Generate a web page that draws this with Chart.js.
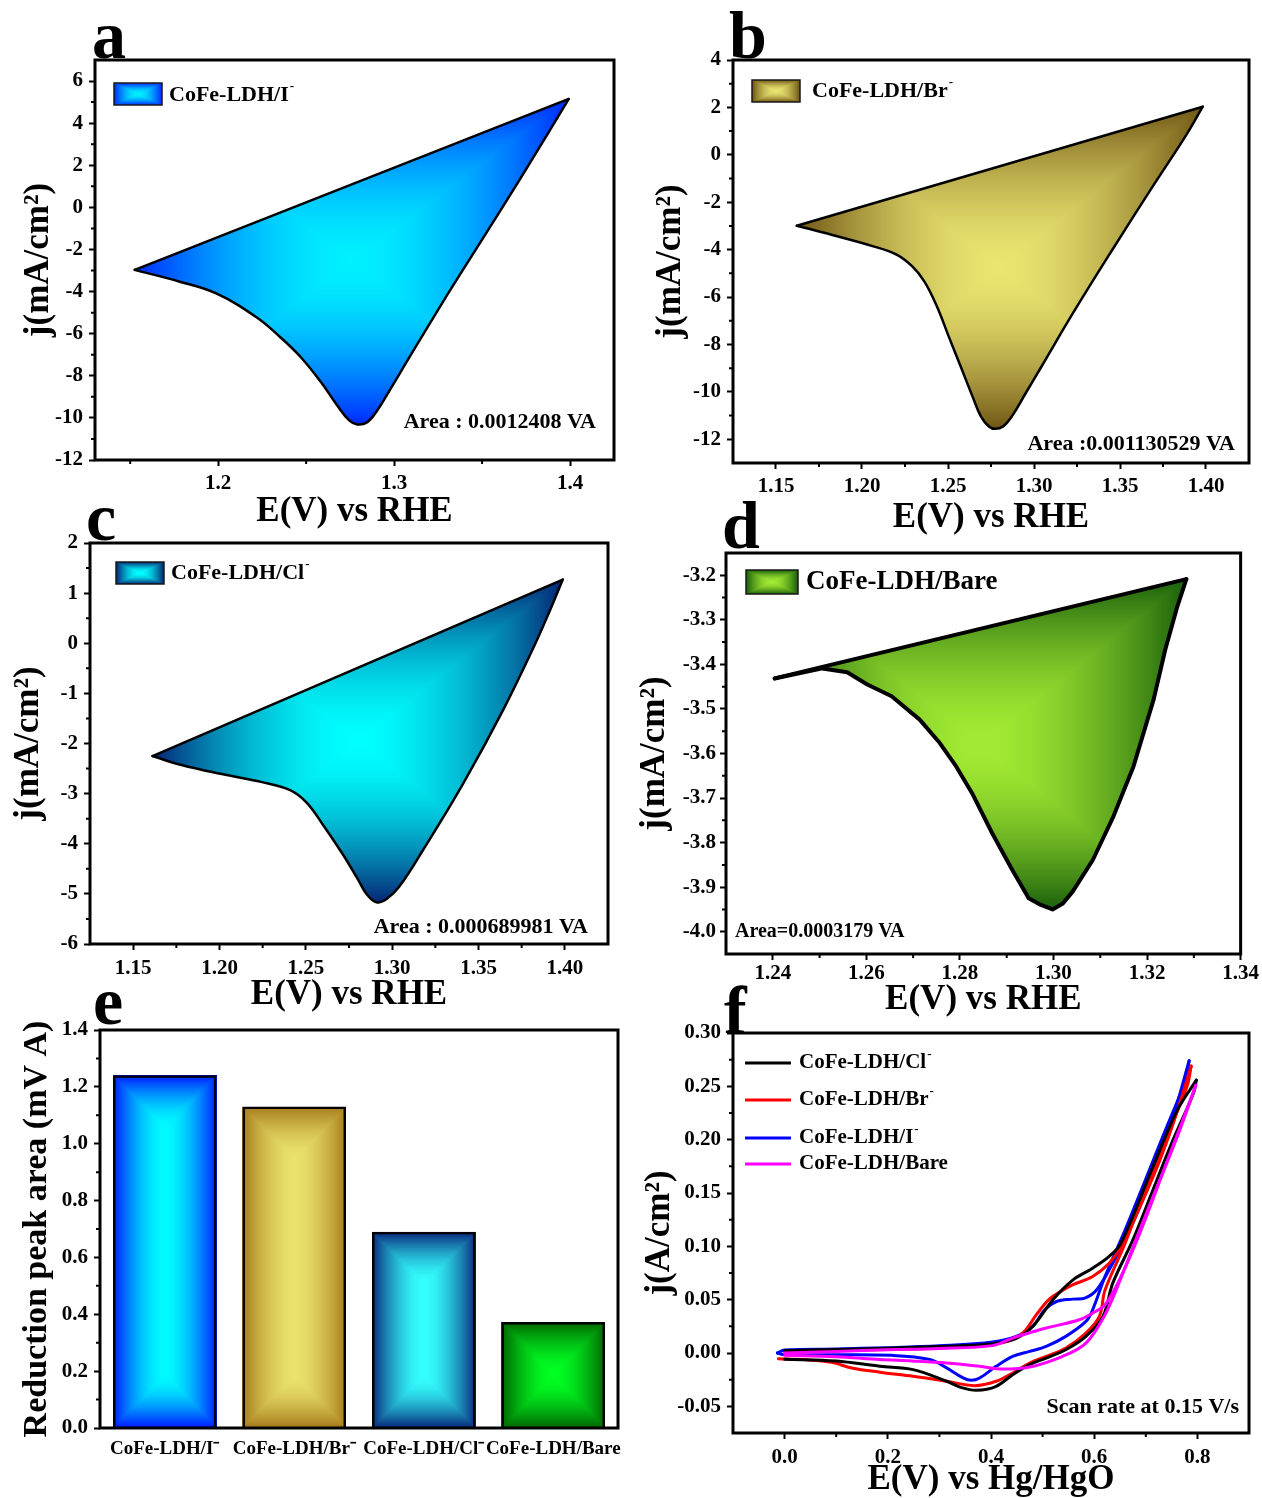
<!DOCTYPE html>
<html>
<head>
<meta charset="utf-8">
<title>CoFe-LDH reduction peaks</title>
<script src="https://cdn.jsdelivr.net/npm/chart.js@4.4.1/dist/chart.umd.min.js"></script>
<style>
  html, body { margin: 0; background: #fff; overflow: hidden; }
  #fig { position: relative; width: 1262px; height: 1498px; }
  #fig canvas { position: absolute; }
</style>
</head>
<body>
<div id="fig">
  <canvas id="panelA" width="630" height="545" style="left:0;top:0"></canvas>
  <canvas id="panelB" width="632" height="545" style="left:630px;top:0"></canvas>
  <canvas id="panelC" width="630" height="530" style="left:0;top:495px"></canvas>
  <canvas id="panelD" width="632" height="530" style="left:630px;top:495px"></canvas>
  <canvas id="panelE" width="630" height="513" style="left:0;top:985px"></canvas>
  <canvas id="panelF" width="632" height="513" style="left:630px;top:985px"></canvas>
</div>
<script>
// ---------- (a) CoFe-LDH/I-  j (mA/cm2) vs E (V vs RHE) ----------
var aFwdE = [1.1526, 1.3993];
var aFwdJ = [-2.97, 5.15];
var aRevE = [1.3993, 1.3730, 1.3501, 1.3271, 1.3042, 1.2974, 1.2905, 1.2848, 1.2790, 1.2745, 1.2676, 1.2584, 1.2470, 1.2355, 1.2218, 1.1989, 1.1782, 1.1526];
var aRevJ = [5.15, 1.53, -1.52, -4.58, -7.75, -8.70, -9.64, -10.20, -10.31, -10.12, -9.40, -8.30, -7.12, -6.18, -5.22, -4.09, -3.53, -2.97];
var aTicksE = [1.2, 1.3, 1.4], aMinorE = [1.15, 1.25, 1.35];
var aTicksJ = [-12, -10, -8, -6, -4, -2, 0, 2, 4, 6];
var aMinorJ = [-11, -9, -7, -5, -3, -1, 1, 3, 5];

// ---------- (b) CoFe-LDH/Br- ----------
var bFwdE = [1.1621, 1.3981];
var bFwdJ = [-2.99, 2.03];
var bRevE = [1.3981, 1.3883, 1.3696, 1.3462, 1.3229, 1.3042, 1.2948, 1.2878, 1.2820, 1.2773, 1.2738, 1.2691, 1.2645, 1.2575, 1.2504, 1.2434, 1.2364, 1.2294, 1.2201, 1.2061, 1.1827, 1.1621];
var bRevJ = [2.03, 0.81, -1.27, -3.93, -6.65, -8.95, -10.10, -10.96, -11.46, -11.56, -11.46, -11.03, -10.24, -8.95, -7.66, -6.37, -5.36, -4.72, -4.21, -3.85, -3.38, -2.99];
var bTicksE = [1.15, 1.20, 1.25, 1.30, 1.35, 1.40], bMinorE = [1.175, 1.225, 1.275, 1.325, 1.375];
var bTicksJ = [-12, -10, -8, -6, -4, -2, 0, 2, 4];
var bMinorJ = [-11, -9, -7, -5, -3, -1, 1, 3];

// ---------- (c) CoFe-LDH/Cl- ----------
var cFwdE = [1.1612, 1.3988];
var cFwdJ = [-2.25, 1.27];
var cRevE = [1.3988, 1.3923, 1.3830, 1.3643, 1.3411, 1.3178, 1.3038, 1.2968, 1.2910, 1.2851, 1.2805, 1.2712, 1.2595, 1.2502, 1.2409, 1.2246, 1.2013, 1.1780, 1.1612];
var cRevJ = [1.27, 0.73, 0.0, -1.33, -2.80, -4.13, -4.87, -5.10, -5.17, -5.00, -4.73, -4.20, -3.60, -3.17, -2.93, -2.77, -2.61, -2.43, -2.25];
var cTicksE = [1.15, 1.20, 1.25, 1.30, 1.35, 1.40], cMinorE = [1.175, 1.225, 1.275, 1.325, 1.375];
var cTicksJ = [-6, -5, -4, -3, -2, -1, 0, 1, 2];
var cMinorJ = [-5.5, -4.5, -3.5, -2.5, -1.5, -0.5, 0.5, 1.5];

// ---------- (d) CoFe-LDH/Bare ----------
var dFwdE = [1.2404, 1.3284];
var dFwdJ = [-3.4315, -3.2086];
var dRevE = [1.3284, 1.3265, 1.3239, 1.3214, 1.3171, 1.3128, 1.3084, 1.3041, 1.3020, 1.2998, 1.2973, 1.2947, 1.2912, 1.2869, 1.2826, 1.2792, 1.2757, 1.2714, 1.2654, 1.2602, 1.2559, 1.2506, 1.2404];
var dRevJ = [-3.2086, -3.269, -3.3665, -3.479, -3.629, -3.7415, -3.839, -3.910, -3.9365, -3.950, -3.940, -3.925, -3.8615, -3.779, -3.689, -3.629, -3.5765, -3.524, -3.4715, -3.445, -3.4175, -3.409, -3.4315];
var dTicksE = [1.24, 1.26, 1.28, 1.30, 1.32, 1.34], dMinorE = [1.25, 1.27, 1.29, 1.31, 1.33];
var dTicksJ = [-4.0, -3.9, -3.8, -3.7, -3.6, -3.5, -3.4, -3.3, -3.2];
var dMinorJ = [-3.95, -3.85, -3.75, -3.65, -3.55, -3.45, -3.35, -3.25];

// ---------- (e) reduction peak areas ----------
var eLabels = ['CoFe-LDH/I\u207B', 'CoFe-LDH/Br\u207B', 'CoFe-LDH/Cl\u207B', 'CoFe-LDH/Bare'];
var eArea = [1.2408, 1.1305, 0.6900, 0.373];
var eTicks = [0, 0.2, 0.4, 0.6, 0.8, 1.0, 1.2, 1.4];
var eMinor = [0.1, 0.3, 0.5, 0.7, 0.9, 1.1, 1.3];

// ---------- (f) CV at 0.15 V/s, j (A/cm2) vs E (V vs Hg/HgO) ----------
var clFwdE = [0.0, 0.10, 0.20, 0.30, 0.40, 0.45, 0.481, 0.52, 0.559, 0.597, 0.629, 0.652, 0.714, 0.761, 0.798];
var clFwdJ = [0.0022, 0.0033, 0.0045, 0.0062, 0.0085, 0.014, 0.025, 0.05, 0.0686, 0.0795, 0.0905, 0.103, 0.1747, 0.2277, 0.2558];
var clRevE = [0.798, 0.792, 0.753, 0.714, 0.675, 0.636, 0.617, 0.584, 0.545, 0.507, 0.475, 0.442, 0.41, 0.372, 0.34, 0.314, 0.249, 0.185, 0.10, 0.0];
var clRevJ = [0.2558, 0.243, 0.200, 0.153, 0.106, 0.0655, 0.0343, 0.0156, 0.0031, -0.0047, -0.0109, -0.0203, -0.0312, -0.035, -0.032, -0.0265, -0.0156, -0.0125, -0.0075, -0.0058];

var brFwdE = [0.0, 0.10, 0.20, 0.30, 0.40, 0.442, 0.465, 0.488, 0.512, 0.535, 0.559, 0.597, 0.629, 0.652, 0.714, 0.753, 0.788];
var brFwdJ = [0.0012, 0.0022, 0.0033, 0.0048, 0.0078, 0.0125, 0.0203, 0.0359, 0.050, 0.0577, 0.064, 0.0717, 0.0842, 0.0998, 0.165, 0.215, 0.269];
var brRevE = [0.788, 0.78, 0.738, 0.699, 0.66, 0.621, 0.61, 0.584, 0.545, 0.507, 0.475, 0.442, 0.41, 0.368, 0.314, 0.249, 0.185, 0.13, 0.091, 0.037, -0.012];
var brRevJ = [0.269, 0.25, 0.2, 0.153, 0.103, 0.059, 0.0343, 0.0187, 0.0047, -0.0031, -0.0094, -0.0187, -0.0265, -0.0306, -0.0265, -0.0218, -0.018, -0.014, -0.0087, -0.0062, -0.0053];

var iFwdE = [-0.014, 0.0, 0.10, 0.20, 0.30, 0.403, 0.449, 0.481, 0.504, 0.527, 0.559, 0.582, 0.605, 0.636, 0.675, 0.714, 0.753, 0.784];
var iFwdJ = [0.0, 0.0028, 0.0038, 0.0050, 0.0068, 0.0103, 0.0156, 0.025, 0.0405, 0.0483, 0.0505, 0.0515, 0.0593, 0.0842, 0.1217, 0.168, 0.2215, 0.274];
var iRevE = [0.784, 0.777, 0.738, 0.699, 0.66, 0.621, 0.597, 0.584, 0.545, 0.507, 0.475, 0.442, 0.41, 0.378, 0.362, 0.346, 0.314, 0.281, 0.208, 0.091, 0.0, -0.014];
var iRevJ = [0.274, 0.256, 0.209, 0.162, 0.1154, 0.0717, 0.0405, 0.0296, 0.0156, 0.0062, 0.0015, -0.0031, -0.0125, -0.0234, -0.0256, -0.0234, -0.014, -0.006, -0.0022, -0.0016, -0.0016, 0.0];

var bareFwdE = [0.0, 0.10, 0.20, 0.30, 0.403, 0.442, 0.462, 0.507, 0.571, 0.597, 0.621, 0.652, 0.691, 0.73, 0.769, 0.797];
var bareFwdJ = [0.0, 0.0015, 0.003, 0.0042, 0.0069, 0.014, 0.0171, 0.0234, 0.0312, 0.0374, 0.0452, 0.0717, 0.1154, 0.165, 0.215, 0.251];
var bareRevE = [0.797, 0.761, 0.722, 0.683, 0.65, 0.62, 0.584, 0.539, 0.475, 0.417, 0.378, 0.314, 0.247, 0.185, 0.10, 0.0];
var bareRevJ = [0.251, 0.2027, 0.156, 0.109, 0.068, 0.035, 0.0093, -0.0031, -0.0131, -0.015, -0.0125, -0.0094, -0.0075, -0.0062, -0.0035, -0.0022];

var fTicksE = [0, 0.2, 0.4, 0.6, 0.8], fMinorE = [0.1, 0.3, 0.5, 0.7];
var fTicksJ = [-0.05, 0, 0.05, 0.10, 0.15, 0.20, 0.25, 0.30];
var fMinorJ = [-0.025, 0.025, 0.075, 0.125, 0.175, 0.225, 0.275];

// ---------- helpers ----------
var serif = '"Liberation Serif", "Times New Roman", serif';
Chart.defaults.font.family = serif;

function pts(E, J) {
  return E.map(function (e, i) { return { x: e, y: J[i] }; });
}
function font(size) {
  return { family: serif, size: size, weight: 'bold', lineHeight: 1 };
}
function fix(n) {
  return function (v) { return Number(v).toFixed(n); };
}

// Origin-style box gradient: bright centre fading to dark edges
function boxImage(w, h, inner, outer, even) {
  w = Math.max(1, Math.round(w)); h = Math.max(1, Math.round(h));
  var c = document.createElement('canvas');
  c.width = w; c.height = h;
  var g = c.getContext('2d'), img = g.createImageData(w, h), d = img.data;
  var hx = even ? Math.min(w, h) / 2 : w / 2;
  var hy = even ? Math.min(w, h) / 2 : h / 2;
  for (var y = 0; y < h; y++) {
    var ty = Math.min(y + 0.5, h - y - 0.5) / hy;
    for (var x = 0; x < w; x++) {
      var t = Math.min(1, ty, Math.min(x + 0.5, w - x - 0.5) / hx);
      t = 1 - Math.pow(1 - t, 1.7);
      var k = (y * w + x) * 4;
      d[k] = outer[0] + (inner[0] - outer[0]) * t;
      d[k + 1] = outer[1] + (inner[1] - outer[1]) * t;
      d[k + 2] = outer[2] + (inner[2] - outer[2]) * t;
      d[k + 3] = 255;
    }
  }
  g.putImageData(img, 0, 0);
  return c;
}

function supText(ctx, text, sup, x, y, size) {
  ctx.font = 'bold ' + size + 'px ' + serif;
  ctx.textAlign = 'left';
  ctx.textBaseline = 'middle';
  ctx.fillText(text, x, y);
  if (sup) {
    var w = ctx.measureText(text).width;
    ctx.font = 'bold ' + Math.round(size * 0.6) + 'px ' + serif;
    ctx.fillText(sup, x + w + 1, y - size * 0.38);
  }
}

// fills the closed CV loop (or each bar) with the box gradient, under the lines
var boxFill = {
  id: 'boxFill',
  beforeDatasetsDraw: function (chart, args, o) {
    var ctx = chart.ctx;
    if (o.bars) {
      chart.getDatasetMeta(0).data.forEach(function (bar, i) {
        var p = bar.getProps(['x', 'y', 'base', 'width'], true);
        var top = Math.min(p.y, p.base), h = Math.abs(p.base - p.y);
        ctx.drawImage(boxImage(p.width, h, o.bars[i][0], o.bars[i][1], true), p.x - p.width / 2, top);
      });
      return;
    }
    if (!o.inner) return;
    var fwd = chart.getDatasetMeta(0), rev = chart.getDatasetMeta(1);
    var xs = [], ys = [];
    fwd.data.concat(rev.data).forEach(function (pt) { xs.push(pt.x); ys.push(pt.y); });
    var x0 = Math.min.apply(null, xs) - 3, x1 = Math.max.apply(null, xs) + 3;
    var y0 = Math.min.apply(null, ys) - 3, y1 = Math.max.apply(null, ys) + 3;
    rev.dataset.updateControlPoints(chart.chartArea, 'x');
    ctx.save();
    ctx.beginPath();
    rev.dataset.path(ctx);
    ctx.closePath();
    ctx.clip();
    ctx.drawImage(boxImage(x1 - x0, y1 - y0, o.inner, o.outer, false), x0, y0);
    ctx.restore();
  }
};

// frame, minor ticks, panel letter, legend and notes
var decor = {
  id: 'decor',
  afterDraw: function (chart, args, o) {
    var ctx = chart.ctx, a = chart.chartArea, ox = o.origin[0], oy = o.origin[1];
    var sx = chart.scales.x, sy = chart.scales.y;
    ctx.save();
    ctx.strokeStyle = '#000';
    ctx.fillStyle = '#000';
    ctx.lineWidth = 3;
    ctx.strokeRect(a.left, a.top, a.right - a.left, a.bottom - a.top);
    ctx.lineWidth = 2;
    ctx.beginPath();
    (o.minorX || []).forEach(function (v) {
      var x = sx.getPixelForValue(v);
      ctx.moveTo(x, a.bottom); ctx.lineTo(x, a.bottom + 4);
    });
    (o.minorY || []).forEach(function (v) {
      var y = sy.getPixelForValue(v);
      ctx.moveTo(a.left, y); ctx.lineTo(a.left - 4, y);
    });
    ctx.stroke();

    ctx.font = 'bold 68px ' + serif;
    ctx.textAlign = 'left';
    ctx.textBaseline = 'alphabetic';
    ctx.fillText(o.letter[0], o.letter[1] - ox, o.letter[2] - oy);

    (o.items || []).forEach(function (it) {
      if (it.swatch) {
        var s = it.swatch;
        ctx.drawImage(boxImage(s[2], s[3], it.inner, it.outer, false), s[0] - ox, s[1] - oy);
        ctx.lineWidth = 1.5;
        ctx.strokeStyle = '#1a1a1a';
        ctx.strokeRect(s[0] - ox, s[1] - oy, s[2], s[3]);
      } else {
        ctx.lineWidth = 3;
        ctx.strokeStyle = it.color;
        ctx.beginPath();
        ctx.moveTo(it.line[0] - ox, it.y - oy);
        ctx.lineTo(it.line[1] - ox, it.y - oy);
        ctx.stroke();
      }
      ctx.fillStyle = '#000';
      supText(ctx, it.text, it.sup, it.x - ox, it.y - oy, it.size);
    });

    if (o.note) {
      ctx.font = 'bold ' + o.note.size + 'px ' + serif;
      ctx.textAlign = o.note.align;
      ctx.textBaseline = 'middle';
      ctx.fillText(o.note.text, o.note.x - ox, o.note.y - oy);
    }
    ctx.restore();
  }
};

function linAxis(o) {
  return {
    type: 'linear',
    min: o.min,
    max: o.max,
    afterBuildTicks: function (s) {
      s.ticks = o.ticks.map(function (v) { return { value: v }; });
    },
    afterFit: function (s) {
      if (o.w) s.width = o.w;
      if (o.h) s.height = o.h;
    },
    ticks: {
      color: '#000', font: font(21), padding: o.pad, autoSkip: false, maxRotation: 0,
      callback: function (v) { return o.fmt(v); }
    },
    grid: { display: true, drawOnChartArea: false, drawTicks: true, tickLength: 6, tickWidth: 2, tickColor: '#000' },
    border: { display: false },
    title: { display: true, text: o.title, color: '#000', font: font(o.tsize || 35), padding: o.tpad }
  };
}

function baseOptions(pad, x, y, fill, dec) {
  return {
    responsive: false,
    animation: false,
    events: [],
    layout: { padding: pad },
    plugins: { legend: { display: false }, tooltip: { enabled: false }, boxFill: fill, decor: dec },
    scales: { x: x, y: y }
  };
}

function loopChart(id, p) {
  var line = { showLine: true, borderColor: '#000', borderWidth: p.lw, pointRadius: 0,
               borderJoinStyle: 'round', borderCapStyle: 'round' };
  return new Chart(document.getElementById(id), {
    type: 'scatter',
    data: {
      datasets: [
        Object.assign({ data: pts(p.fwdE, p.fwdJ), tension: 0 }, line),
        Object.assign({ data: pts(p.revE, p.revJ), tension: p.tension }, line)
      ]
    },
    options: baseOptions(p.pad, p.x, p.y, p.fill, p.decor),
    plugins: [boxFill, decor]
  });
}

// ---------- panels a-d ----------
var blueIn = [0, 240, 255], blueOut = [0, 36, 255];
var goldIn = [234, 228, 112], goldOut = [108, 82, 18];
var tealIn = [0, 255, 255], tealOut = [6, 30, 112];
var limeIn = [162, 234, 50], limeOut = [22, 92, 10];

loopChart('panelA', {
  fwdE: aFwdE, fwdJ: aFwdJ, revE: aRevE, revJ: aRevJ, lw: 2.5, tension: 0.4,
  pad: { left: 0, top: 60, right: 16, bottom: 0 },
  x: linAxis({ min: 1.13, max: 1.425, ticks: aTicksE, fmt: fix(1), title: 'E(V) vs RHE', h: 85, pad: 7, tpad: { top: 0, bottom: 16 } }),
  y: linAxis({ min: -12, max: 7, ticks: aTicksJ, fmt: fix(0), title: 'j(mA/cm\u00B2)', w: 95, pad: 6, tpad: { top: 21, bottom: 0 } }),
  fill: { inner: blueIn, outer: blueOut },
  decor: {
    origin: [0, 0], minorX: aMinorE, minorY: aMinorJ, letter: ['a', 92, 58],
    items: [{ swatch: [114, 83, 48, 22], inner: blueIn, outer: blueOut, text: 'CoFe-LDH/I', sup: '-', x: 169, y: 95, size: 22 }],
    note: { text: 'Area : 0.0012408 VA', x: 596, y: 422, size: 22, align: 'right' }
  }
});

loopChart('panelB', {
  fwdE: bFwdE, fwdJ: bFwdJ, revE: bRevE, revJ: bRevJ, lw: 2.5, tension: 0.4,
  pad: { left: 0, top: 60, right: 13, bottom: 0 },
  x: linAxis({ min: 1.125, max: 1.425, ticks: bTicksE, fmt: fix(2), title: 'E(V) vs RHE', h: 82, pad: 7, tpad: { top: 0, bottom: 10 } }),
  y: linAxis({ min: -13, max: 4, ticks: bTicksJ, fmt: fix(0), title: 'j(mA/cm\u00B2)', w: 103, pad: 6, tpad: { top: 23, bottom: 0 } }),
  fill: { inner: goldIn, outer: goldOut },
  decor: {
    origin: [630, 0], minorX: bMinorE, minorY: bMinorJ, letter: ['b', 729, 58],
    items: [{ swatch: [752, 80, 48, 22], inner: goldIn, outer: goldOut, text: 'CoFe-LDH/Br', sup: '-', x: 812, y: 91, size: 22 }],
    note: { text: 'Area :0.001130529 VA', x: 1235, y: 444, size: 22, align: 'right' }
  }
});

loopChart('panelC', {
  fwdE: cFwdE, fwdJ: cFwdJ, revE: cRevE, revJ: cRevJ, lw: 2.5, tension: 0.4,
  pad: { left: 0, top: 48, right: 22, bottom: 0 },
  x: linAxis({ min: 1.125, max: 1.425, ticks: cTicksE, fmt: fix(2), title: 'E(V) vs RHE', h: 81, pad: 8, tpad: { top: 0, bottom: 13 } }),
  y: linAxis({ min: -6, max: 2, ticks: cTicksJ, fmt: fix(0), title: 'j(mA/cm\u00B2)', w: 90, pad: 6, tpad: { top: 11, bottom: 0 } }),
  fill: { inner: tealIn, outer: tealOut },
  decor: {
    origin: [0, 495], minorX: cMinorE, minorY: cMinorJ, letter: ['c', 86, 540],
    items: [{ swatch: [116, 562, 48, 22], inner: tealIn, outer: tealOut, text: 'CoFe-LDH/Cl', sup: '-', x: 171, y: 573, size: 22 }],
    note: { text: 'Area : 0.000689981 VA', x: 588, y: 927, size: 22, align: 'right' }
  }
});

loopChart('panelD', {
  fwdE: dFwdE, fwdJ: dFwdJ, revE: dRevE, revJ: dRevJ, lw: 4, tension: 0,
  pad: { left: 0, top: 58, right: 19, bottom: 0 },
  x: linAxis({ min: 1.23, max: 1.34, ticks: dTicksE, fmt: fix(2), title: 'E(V) vs RHE', h: 71, pad: 3, tpad: { top: 0, bottom: 8 } }),
  y: linAxis({ min: -4.05, max: -3.15, ticks: dTicksJ, fmt: fix(1), title: 'j(mA/cm\u00B2)', w: 96, pad: 4, tpad: { top: 7, bottom: 0 } }),
  fill: { inner: limeIn, outer: limeOut },
  decor: {
    origin: [630, 495], minorX: dMinorE, minorY: dMinorJ, letter: ['d', 722, 548],
    items: [{ swatch: [746, 570, 52, 24], inner: limeIn, outer: limeOut, text: 'CoFe-LDH/Bare', sup: '', x: 806, y: 582, size: 27 }],
    note: { text: 'Area=0.0003179 VA', x: 735, y: 932, size: 20, align: 'left' }
  }
});

// ---------- panel e: bar chart ----------
var eAxisX = {
  type: 'category',
  afterFit: function (s) { s.height = 70; },
  ticks: { color: '#000', font: font(19), padding: 4, autoSkip: false, maxRotation: 0, minRotation: 0 },
  grid: { display: false },
  border: { display: false }
};
var eAxisY = linAxis({ min: 0, max: 1.4, ticks: eTicks, fmt: fix(1), title: 'Reduction peak area (mV A)', tsize: 34, w: 100, pad: 6, tpad: { top: 20, bottom: 0 } });

new Chart(document.getElementById('panelE'), {
  type: 'bar',
  data: {
    labels: eLabels,
    datasets: [{
      data: eArea,
      backgroundColor: 'rgba(0,0,0,0)',
      borderColor: '#000',
      borderWidth: 2.5,
      categoryPercentage: 1,
      barPercentage: 0.8
    }]
  },
  options: baseOptions({ left: 0, top: 45, right: 12, bottom: 0 }, eAxisX, eAxisY,
    { bars: [[[0, 250, 255], [0, 24, 255]], [[234, 226, 108], [166, 122, 26]], [[52, 255, 255], [8, 36, 122]], [[0, 255, 34], [0, 98, 0]]] },
    { origin: [0, 985], minorY: eMinor, letter: ['e', 93, 1024] }),
  plugins: [boxFill, decor]
});

// ---------- panel f: CV overlay ----------
function cv(E, J, color) {
  return { data: pts(E, J), showLine: true, tension: 0.35, borderColor: color, borderWidth: 3, pointRadius: 0,
           borderJoinStyle: 'round', borderCapStyle: 'round' };
}

new Chart(document.getElementById('panelF'), {
  type: 'scatter',
  data: {
    datasets: [
      cv(bareFwdE, bareFwdJ, '#ff00ff'), cv(bareRevE, bareRevJ, '#ff00ff'),
      cv(clFwdE, clFwdJ, '#000000'), cv(clRevE, clRevJ, '#000000'),
      cv(brFwdE, brFwdJ, '#ff0000'), cv(brRevE, brRevJ, '#ff0000'),
      cv(iFwdE, iFwdJ, '#0000ff'), cv(iRevE, iRevJ, '#0000ff')
    ]
  },
  options: baseOptions({ left: 0, top: 48, right: 13, bottom: 0 },
    linAxis({ min: -0.1, max: 0.9, ticks: fTicksE, fmt: fix(1), title: 'E(V) vs Hg/HgO', h: 65, pad: 8, tpad: { top: 0, bottom: 1 } }),
    linAxis({ min: -0.075, max: 0.30, ticks: fTicksJ, fmt: fix(2), title: 'j(A/cm\u00B2)', w: 103, pad: 6, tpad: { top: 12, bottom: 0 } }),
    {},
    {
      origin: [630, 985], minorX: fMinorE, minorY: fMinorJ, letter: ['f', 724, 1033],
      items: [
        { line: [745, 791], color: '#000000', text: 'CoFe-LDH/Cl', sup: '-', x: 799, y: 1063, size: 21 },
        { line: [745, 791], color: '#ff0000', text: 'CoFe-LDH/Br', sup: '-', x: 799, y: 1100, size: 21 },
        { line: [745, 791], color: '#0000ff', text: 'CoFe-LDH/I', sup: '-', x: 799, y: 1138, size: 21 },
        { line: [745, 791], color: '#ff00ff', text: 'CoFe-LDH/Bare', sup: '', x: 799, y: 1164, size: 21 }
      ],
      note: { text: 'Scan rate at 0.15 V/s', x: 1239, y: 1407, size: 22, align: 'right' }
    }),
  plugins: [boxFill, decor]
});
</script>
</body>
</html>
